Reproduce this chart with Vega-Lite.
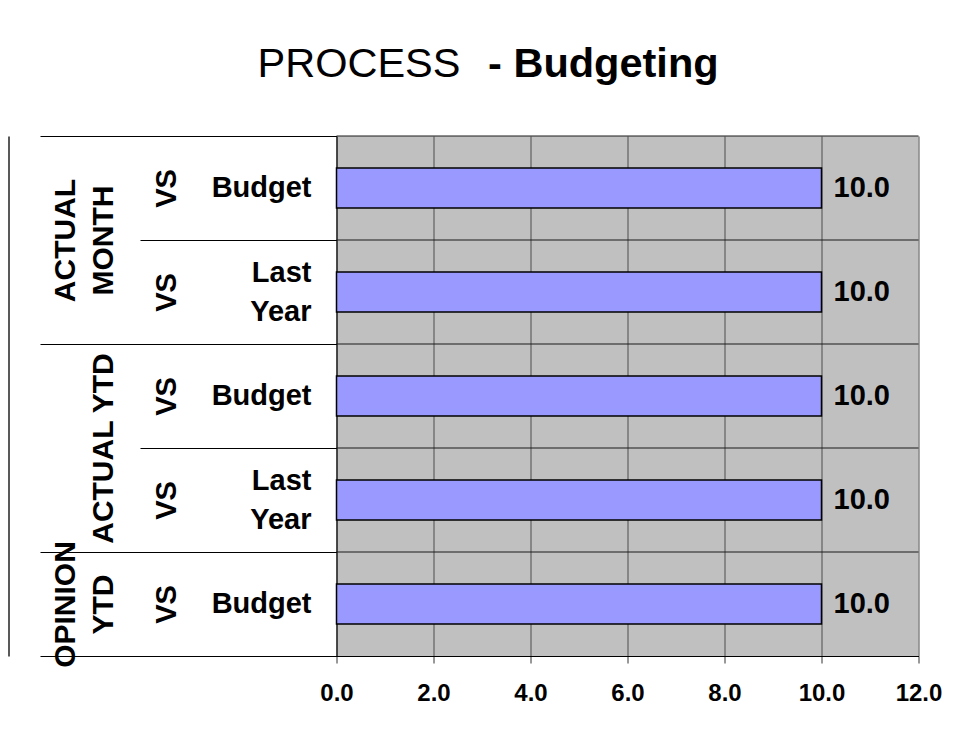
{
  "$schema": "https://vega.github.io/schema/vega-lite/v6.json",
  "width": 582,
  "height": 520,
  "autosize": {"type": "none"},
  "padding": {"left": 336.5, "top": 136, "right": 48, "bottom": 87},
  "background": "white",
  "config": {
    "font": "Liberation Sans",
    "view": {"fill": "#C0C0C0", "stroke": null}
  },
  "title": {
    "text": "PROCESS",
    "subtitle": "\u200b\u00a0\u00a0\u00a0\u00a0\u00a0\u00a0\u00a0\u00a0\u00a0\u00a0\u00a0\u00a0\u00a0\u00a0\u00a0\u00a0\u00a0\u00a0\u00a0\u00a0- Budgeting",
    "anchor": "start",
    "align": "left",
    "frame": "group",
    "dx": -79,
    "offset": 50,
    "font": "Liberation Sans",
    "fontSize": 41.5,
    "fontWeight": "normal",
    "color": "#000000",
    "subtitleFont": "Liberation Sans",
    "subtitleFontSize": 41.5,
    "subtitleFontWeight": "bold",
    "subtitleColor": "#000000",
    "subtitlePadding": -41.5
  },
  "data": {
    "values": [
      {"metric": "ACTUAL MONTH VS Budget", "value": 10},
      {"metric": "ACTUAL MONTH VS Last Year", "value": 10},
      {"metric": "ACTUAL YTD VS Budget", "value": 10},
      {"metric": "ACTUAL YTD VS Last Year", "value": 10},
      {"metric": "OPINION YTD VS Budget", "value": 10}
    ]
  },
  "layer": [
    {
      "mark": {"type": "rule", "color": "#1a1a1a", "strokeWidth": 1},
      "encoding": {
        "y": {
          "field": "metric",
          "type": "nominal",
          "sort": null,
          "bandPosition": 0,
          "scale": {"type": "band", "paddingInner": 0, "paddingOuter": 0},
          "axis": {
            "orient": "left",
            "title": null,
            "grid": false,
            "domain": true,
            "domainColor": "#000000",
            "domainWidth": 1,
            "ticks": true,
            "tickBand": "extent",
            "tickColor": "#000000",
            "tickWidth": 1,
            "tickSize": {"condition": {"test": "datum.value === 'ACTUAL MONTH VS Budget' || datum.value === 'ACTUAL YTD VS Budget'", "value": 196.5}, "value": 296.5},
            "labelAngle": 270,
            "labelAlign": "center",
            "labelBaseline": "bottom",
            "labelFontSize": 30,
            "labelFontWeight": "bold",
            "labelColor": "#000000",
            "labelLineHeight": 38,
            "labelLimit": 0,
            "labelOffset": {"condition": {"test": "datum.value === 'ACTUAL MONTH VS Budget' || datum.value === 'ACTUAL YTD VS Budget'", "value": 52}, "value": 0},
            "labelPadding": {"condition": {"test": "datum.value === 'OPINION YTD VS Budget'", "value": -40}, "value": 60},
            "labelExpr": "indexof(datum.label, 'Budget') > 0 ? (indexof(datum.label, 'ACTUAL YTD') == 0 ? ['', 'ACTUAL YTD'] : split(split(datum.label, ' VS ')[0], ' ')) : ''"
          }
        }
      }
    },
    {
      "mark": {"type": "bar", "fill": "#9999FF", "stroke": "#000000", "strokeWidth": 1.5},
      "encoding": {
        "x": {
          "field": "value",
          "type": "quantitative",
          "scale": {"domain": [0, 12], "nice": false, "zero": true},
          "axis": {
            "title": null,
            "values": [0, 2, 4, 6, 8, 10, 12],
            "format": ".1f",
            "grid": true,
            "gridColor": "#4d4d4d",
            "gridWidth": 1,
            "gridOpacity": 1,
            "tickSize": 7,
            "tickColor": "#333333",
            "domainColor": "#000000",
            "labelFontSize": 24,
            "labelFontWeight": "bold",
            "labelColor": "#000000",
            "labelPadding": 18.5,
            "labelFlush": false
          }
        },
        "y": {
          "field": "metric",
          "type": "nominal",
          "sort": null,
          "scale": {"paddingInner": 0.615, "paddingOuter": 0.3075},
          "axis": {
            "orient": "left",
            "title": null,
            "domain": false,
            "ticks": false,
            "grid": false,
            "labelAlign": "right",
            "labelBaseline": "middle",
            "labelPadding": 25.5,
            "labelFontSize": 29,
            "labelFontWeight": "bold",
            "labelColor": "#000000",
            "labelLineHeight": 39,
            "labelLimit": 0,
            "labelOffset": {"condition": {"test": "indexof(datum.value, 'Last Year') > 0", "value": -19.5}, "value": 0},
            "labelExpr": "split(split(datum.label, ' VS ')[1], ' ')"
          }
        }
      }
    },
    {
      "mark": {"type": "text", "align": "left", "baseline": "middle", "dx": 12, "fontSize": 29, "fontWeight": "bold", "color": "#000000"},
      "encoding": {
        "x": {"field": "value", "type": "quantitative"},
        "y": {
          "field": "metric",
          "type": "nominal",
          "sort": null,
          "axis": {
            "orient": "left",
            "title": null,
            "offset": 328,
            "domain": true,
            "domainColor": "#222222",
            "domainWidth": 1.5,
            "ticks": false,
            "grid": false,
            "labelAngle": 270,
            "labelAlign": "center",
            "labelBaseline": "bottom",
            "labelPadding": -172.5,
            "labelFontSize": 29,
            "labelFontWeight": "bold",
            "labelColor": "#000000",
            "labelExpr": "'VS'"
          }
        },
        "text": {"field": "value", "type": "quantitative", "format": ".1f"}
      }
    }
  ],
  "resolve": {"scale": {"y": "independent"}, "axis": {"y": "independent"}}
}
